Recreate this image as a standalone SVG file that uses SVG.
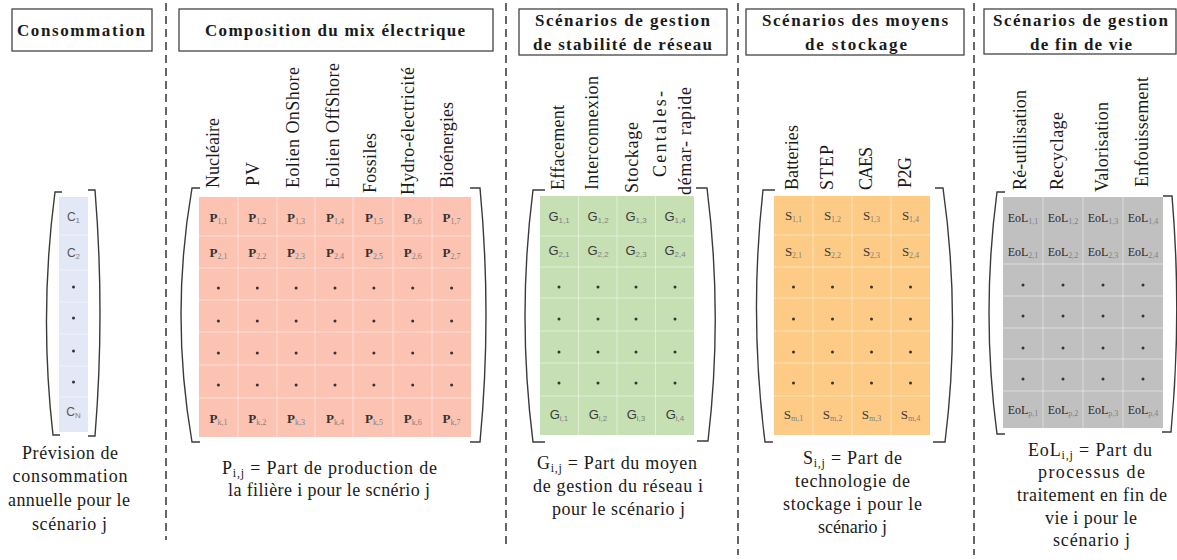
<svg xmlns="http://www.w3.org/2000/svg" xmlns:xlink="http://www.w3.org/1999/xlink" width="1177" height="560" viewBox="0 0 1177 560">
<style>
.bg{fill:#ffffff}
.box{fill:#ffffff;stroke:#444;stroke-width:1.3}
.ttl{font-family:"Liberation Serif","Times New Roman",serif;font-weight:bold;font-size:17px;fill:#1a1a1a;text-anchor:middle}
.hdr{font-family:"Liberation Serif","Times New Roman",serif;font-size:18px;fill:#1a1a1a}
.cap{font-family:"Liberation Serif","Times New Roman",serif;font-size:18px;fill:#1a1a1a;text-anchor:middle}
.dash{stroke:#333;stroke-width:1.5;stroke-dasharray:8 5;fill:none}
.br{fill:none;stroke:#3a3a3a;stroke-width:1.4}
.grid{stroke:#ffffff;stroke-opacity:0.45;stroke-width:1}
.cs{font-family:"Liberation Sans",Arial,sans-serif;font-size:12px;fill:#555;text-anchor:middle}
.ps{font-family:"Liberation Serif","Times New Roman",serif;font-weight:bold;font-size:13px;fill:#333;text-anchor:middle}
.gs{font-family:"Liberation Sans",Arial,sans-serif;font-size:13px;fill:#3a3a3a;text-anchor:middle}
.ss{font-family:"Liberation Serif","Times New Roman",serif;font-size:13px;fill:#3a3a3a;text-anchor:middle}
.es{font-family:"Liberation Serif","Times New Roman",serif;font-size:12px;fill:#2a2a2a;text-anchor:middle}
.sb{font-size:8px;fill:#808080;font-weight:normal}
.sub{font-size:12px}
.dot{fill:#333}
</style>
<defs>
<circle id="d" cx="0" cy="0" r="1.5" class="dot"/>
</defs>
<rect class="bg" x="0" y="0" width="1177" height="560"/>

<g id="separators">
<line class="dash" x1="166" y1="3" x2="166" y2="540"/>
<line class="dash" x1="506" y1="3" x2="506" y2="548"/>
<line class="dash" x1="738" y1="3" x2="738" y2="555"/>
<line class="dash" x1="974" y1="3" x2="974" y2="555"/>
</g>

<!-- Consommation -->
<g id="consommation">
<rect class="box" x="12" y="9" width="140" height="42"/>
<text class="ttl" x="81" y="36" textLength="128" lengthAdjust="spacing">Consommation</text>
<rect x="59" y="197" width="29" height="235" fill="#e2e8f5"/>
<g class="grid">
<line x1="59" y1="235" x2="88" y2="235"/><line x1="59" y1="270" x2="88" y2="270"/>
<line x1="59" y1="302" x2="88" y2="302"/><line x1="59" y1="334" x2="88" y2="334"/>
<line x1="59" y1="366" x2="88" y2="366"/><line x1="59" y1="397" x2="88" y2="397"/>
</g>
<text class="cs" x="73.5" y="221">C<tspan class="sb" dy="2">1</tspan></text>
<text class="cs" x="73.5" y="257">C<tspan class="sb" dy="2">2</tspan></text>
<use href="#d" x="73.5" y="287"/><use href="#d" x="73.5" y="318"/>
<use href="#d" x="73.5" y="351"/><use href="#d" x="73.5" y="382"/>
<text class="cs" x="73.5" y="416">C<tspan class="sb" dy="2">N</tspan></text>
<path class="br" d="M62,192 L55,192 Q39,313.5 53,435 L60,435"/>
<path class="br" d="M88,190 L95,190 Q105,313 95,436 L88,436"/>
<text class="cap" x="70" y="459" textLength="96" lengthAdjust="spacing">Prévision de</text>
<text class="cap" x="70" y="482" textLength="115" lengthAdjust="spacing">consommation</text>
<text class="cap" x="69" y="506" textLength="122" lengthAdjust="spacing">annuelle pour le</text>
<text class="cap" x="69.5" y="530" textLength="75" lengthAdjust="spacing">scénario j</text>
</g>

<!-- Composition du mix électrique -->
<g id="mix">
<rect class="box" x="179" y="9" width="314" height="42"/>
<text class="ttl" x="335" y="36" textLength="260" lengthAdjust="spacing">Composition du mix électrique</text>
<text class="hdr" transform="translate(219,188) rotate(-90)" textLength="70" lengthAdjust="spacing">Nucléaire</text>
<text class="hdr" transform="translate(259,186) rotate(-90)" textLength="24" lengthAdjust="spacing">PV</text>
<text class="hdr" transform="translate(299,188) rotate(-90)" textLength="121" lengthAdjust="spacing">Eolien OnShore</text>
<text class="hdr" transform="translate(339,188) rotate(-90)" textLength="125" lengthAdjust="spacing">Eolien OffShore</text>
<text class="hdr" transform="translate(376,193) rotate(-90)" textLength="60" lengthAdjust="spacing">Fossiles</text>
<text class="hdr" transform="translate(414,195) rotate(-90)" textLength="128" lengthAdjust="spacing">Hydro-électricité</text>
<text class="hdr" transform="translate(453,188) rotate(-90)" textLength="86" lengthAdjust="spacing">Bioénergies</text>
<rect x="199" y="197" width="272" height="240" fill="#fcc3b3"/>
<g class="grid">
<line x1="238" y1="197" x2="238" y2="437"/><line x1="277" y1="197" x2="277" y2="437"/>
<line x1="315" y1="197" x2="315" y2="437"/><line x1="353" y1="197" x2="353" y2="437"/>
<line x1="393" y1="197" x2="393" y2="437"/><line x1="432" y1="197" x2="432" y2="437"/>
<line x1="199" y1="236" x2="471" y2="236"/><line x1="199" y1="268" x2="471" y2="268"/>
<line x1="199" y1="300" x2="471" y2="300"/><line x1="199" y1="332" x2="471" y2="332"/>
<line x1="199" y1="365" x2="471" y2="365"/><line x1="199" y1="398" x2="471" y2="398"/>
</g>
<text class="ps" x="218.4" y="222">P<tspan class="sb" dy="2">1,1</tspan></text>
<text class="ps" x="257.3" y="222">P<tspan class="sb" dy="2">1,2</tspan></text>
<text class="ps" x="296.1" y="222">P<tspan class="sb" dy="2">1,3</tspan></text>
<text class="ps" x="335" y="222">P<tspan class="sb" dy="2">1,4</tspan></text>
<text class="ps" x="373.9" y="222">P<tspan class="sb" dy="2">1,5</tspan></text>
<text class="ps" x="412.7" y="222">P<tspan class="sb" dy="2">1,6</tspan></text>
<text class="ps" x="451.6" y="222">P<tspan class="sb" dy="2">1,7</tspan></text>
<text class="ps" x="218.4" y="257">P<tspan class="sb" dy="2">2,1</tspan></text>
<text class="ps" x="257.3" y="257">P<tspan class="sb" dy="2">2,2</tspan></text>
<text class="ps" x="296.1" y="257">P<tspan class="sb" dy="2">2,3</tspan></text>
<text class="ps" x="335" y="257">P<tspan class="sb" dy="2">2,4</tspan></text>
<text class="ps" x="373.9" y="257">P<tspan class="sb" dy="2">2,5</tspan></text>
<text class="ps" x="412.7" y="257">P<tspan class="sb" dy="2">2,6</tspan></text>
<text class="ps" x="451.6" y="257">P<tspan class="sb" dy="2">2,7</tspan></text>
<use href="#d" x="218.4" y="288"/><use href="#d" x="257.3" y="288"/><use href="#d" x="296.1" y="288"/><use href="#d" x="335" y="288"/><use href="#d" x="373.9" y="288"/><use href="#d" x="412.7" y="288"/><use href="#d" x="451.6" y="288"/>
<use href="#d" x="218.4" y="321"/><use href="#d" x="257.3" y="321"/><use href="#d" x="296.1" y="321"/><use href="#d" x="335" y="321"/><use href="#d" x="373.9" y="321"/><use href="#d" x="412.7" y="321"/><use href="#d" x="451.6" y="321"/>
<use href="#d" x="218.4" y="353"/><use href="#d" x="257.3" y="353"/><use href="#d" x="296.1" y="353"/><use href="#d" x="335" y="353"/><use href="#d" x="373.9" y="353"/><use href="#d" x="412.7" y="353"/><use href="#d" x="451.6" y="353"/>
<use href="#d" x="218.4" y="385"/><use href="#d" x="257.3" y="385"/><use href="#d" x="296.1" y="385"/><use href="#d" x="335" y="385"/><use href="#d" x="373.9" y="385"/><use href="#d" x="412.7" y="385"/><use href="#d" x="451.6" y="385"/>
<text class="ps" x="218.4" y="423">P<tspan class="sb" dy="2">k,1</tspan></text>
<text class="ps" x="257.3" y="423">P<tspan class="sb" dy="2">k,2</tspan></text>
<text class="ps" x="296.1" y="423">P<tspan class="sb" dy="2">k,3</tspan></text>
<text class="ps" x="335" y="423">P<tspan class="sb" dy="2">k,4</tspan></text>
<text class="ps" x="373.9" y="423">P<tspan class="sb" dy="2">k,5</tspan></text>
<text class="ps" x="412.7" y="423">P<tspan class="sb" dy="2">k,6</tspan></text>
<text class="ps" x="451.6" y="423">P<tspan class="sb" dy="2">k,7</tspan></text>
<path class="br" d="M200,188 L192,188 Q170,315 192,442 L200,442"/>
<path class="br" d="M470,188 L480,188 Q492,315 480,442 L470,442"/>
<text class="cap" x="329.5" y="474" textLength="215" lengthAdjust="spacing">P<tspan class="sub" dy="3">i,j</tspan><tspan dy="-3"> = Part de production de</tspan></text>
<text class="cap" x="329" y="496" textLength="202" lengthAdjust="spacing">la filière i pour le scnério j</text>
</g>

<!-- Stabilité de réseau -->
<g id="stabilite">
<rect class="box" x="519" y="9" width="208" height="46"/>
<text class="ttl" x="622.5" y="26" textLength="175" lengthAdjust="spacing">Scénarios de gestion</text>
<text class="ttl" x="622.5" y="50" textLength="179" lengthAdjust="spacing">de stabilité de réseau</text>
<text class="hdr" transform="translate(564,190) rotate(-90)" textLength="85" lengthAdjust="spacing">Effacement</text>
<text class="hdr" transform="translate(598,190) rotate(-90)" textLength="114" lengthAdjust="spacing">Interconnexion</text>
<text class="hdr" transform="translate(638,193) rotate(-90)" textLength="71" lengthAdjust="spacing">Stockage</text>
<text class="hdr" transform="translate(666,177) rotate(-90)" textLength="86" lengthAdjust="spacing">Centales-</text>
<text class="hdr" transform="translate(691,195) rotate(-90)" textLength="108" lengthAdjust="spacing">démar- rapide</text>
<rect x="540" y="196" width="154" height="239" fill="#c6e0b4"/>
<g class="grid">
<line x1="578.5" y1="196" x2="578.5" y2="435"/><line x1="617" y1="196" x2="617" y2="435"/><line x1="655.5" y1="196" x2="655.5" y2="435"/>
<line x1="540" y1="236" x2="694" y2="236"/><line x1="540" y1="267" x2="694" y2="267"/>
<line x1="540" y1="298" x2="694" y2="298"/><line x1="540" y1="331" x2="694" y2="331"/>
<line x1="540" y1="363" x2="694" y2="363"/><line x1="540" y1="396" x2="694" y2="396"/>
</g>
<text class="gs" x="559" y="221">G<tspan class="sb" dy="2">1,1</tspan></text>
<text class="gs" x="598" y="221">G<tspan class="sb" dy="2">1,2</tspan></text>
<text class="gs" x="636" y="221">G<tspan class="sb" dy="2">1,3</tspan></text>
<text class="gs" x="675" y="221">G<tspan class="sb" dy="2">1,4</tspan></text>
<text class="gs" x="559" y="255">G<tspan class="sb" dy="2">2,1</tspan></text>
<text class="gs" x="598" y="255">G<tspan class="sb" dy="2">2,2</tspan></text>
<text class="gs" x="636" y="255">G<tspan class="sb" dy="2">2,3</tspan></text>
<text class="gs" x="675" y="255">G<tspan class="sb" dy="2">2,4</tspan></text>
<use href="#d" x="559" y="287"/><use href="#d" x="598" y="287"/><use href="#d" x="636" y="287"/><use href="#d" x="675" y="287"/>
<use href="#d" x="559" y="319"/><use href="#d" x="598" y="319"/><use href="#d" x="636" y="319"/><use href="#d" x="675" y="319"/>
<use href="#d" x="559" y="352"/><use href="#d" x="598" y="352"/><use href="#d" x="636" y="352"/><use href="#d" x="675" y="352"/>
<use href="#d" x="559" y="383"/><use href="#d" x="598" y="383"/><use href="#d" x="636" y="383"/><use href="#d" x="675" y="383"/>
<text class="gs" x="559" y="419">G<tspan class="sb" dy="2">i,1</tspan></text>
<text class="gs" x="598" y="419">G<tspan class="sb" dy="2">i,2</tspan></text>
<text class="gs" x="636" y="419">G<tspan class="sb" dy="2">i,3</tspan></text>
<text class="gs" x="675" y="419">G<tspan class="sb" dy="2">i,4</tspan></text>
<path class="br" d="M545,190 L533,190 Q517,316 533,442 L545,442"/>
<path class="br" d="M696,188 L707,188 Q723,315 708,441 L697,441"/>
<text class="cap" x="617" y="469" textLength="160" lengthAdjust="spacing">G<tspan class="sub" dy="3">i,j</tspan><tspan dy="-3"> = Part du moyen</tspan></text>
<text class="cap" x="618" y="492" textLength="170" lengthAdjust="spacing">de gestion du réseau i</text>
<text class="cap" x="618.5" y="515" textLength="133" lengthAdjust="spacing">pour le scénario j</text>
</g>

<!-- Stockage -->
<g id="stockage">
<rect class="box" x="746" y="9" width="218" height="46"/>
<text class="ttl" x="855" y="26" textLength="186" lengthAdjust="spacing">Scénarios des moyens</text>
<text class="ttl" x="856" y="50" textLength="102" lengthAdjust="spacing">de stockage</text>
<text class="hdr" transform="translate(798,190) rotate(-90)" textLength="65" lengthAdjust="spacing">Batteries</text>
<text class="hdr" transform="translate(833,190) rotate(-90)" textLength="45" lengthAdjust="spacing">STEP</text>
<text class="hdr" transform="translate(872,190) rotate(-90)" textLength="43" lengthAdjust="spacing">CAES</text>
<text class="hdr" transform="translate(911,188) rotate(-90)" textLength="31" lengthAdjust="spacing">P2G</text>
<rect x="774" y="196" width="156" height="239" fill="#fdcb85"/>
<g class="grid">
<line x1="813" y1="196" x2="813" y2="435"/><line x1="852" y1="196" x2="852" y2="435"/><line x1="891" y1="196" x2="891" y2="435"/>
<line x1="774" y1="235" x2="930" y2="235"/><line x1="774" y1="267" x2="930" y2="267"/>
<line x1="774" y1="298" x2="930" y2="298"/><line x1="774" y1="331" x2="930" y2="331"/>
<line x1="774" y1="363" x2="930" y2="363"/><line x1="774" y1="396" x2="930" y2="396"/>
</g>
<text class="ss" x="793.5" y="220">S<tspan class="sb" dy="2">1,1</tspan></text>
<text class="ss" x="832.5" y="220">S<tspan class="sb" dy="2">1,2</tspan></text>
<text class="ss" x="871.5" y="220">S<tspan class="sb" dy="2">1,3</tspan></text>
<text class="ss" x="910.5" y="220">S<tspan class="sb" dy="2">1,4</tspan></text>
<text class="ss" x="793.5" y="256">S<tspan class="sb" dy="2">2,1</tspan></text>
<text class="ss" x="832.5" y="256">S<tspan class="sb" dy="2">2,2</tspan></text>
<text class="ss" x="871.5" y="256">S<tspan class="sb" dy="2">2,3</tspan></text>
<text class="ss" x="910.5" y="256">S<tspan class="sb" dy="2">2,4</tspan></text>
<use href="#d" x="793.5" y="287"/><use href="#d" x="832.5" y="287"/><use href="#d" x="871.5" y="287"/><use href="#d" x="910.5" y="287"/>
<use href="#d" x="793.5" y="319"/><use href="#d" x="832.5" y="319"/><use href="#d" x="871.5" y="319"/><use href="#d" x="910.5" y="319"/>
<use href="#d" x="793.5" y="352"/><use href="#d" x="832.5" y="352"/><use href="#d" x="871.5" y="352"/><use href="#d" x="910.5" y="352"/>
<use href="#d" x="793.5" y="383"/><use href="#d" x="832.5" y="383"/><use href="#d" x="871.5" y="383"/><use href="#d" x="910.5" y="383"/>
<text class="ss" x="793.5" y="419">S<tspan class="sb" dy="2">m,1</tspan></text>
<text class="ss" x="832.5" y="419">S<tspan class="sb" dy="2">m,2</tspan></text>
<text class="ss" x="871.5" y="419">S<tspan class="sb" dy="2">m,3</tspan></text>
<text class="ss" x="910.5" y="419">S<tspan class="sb" dy="2">m,4</tspan></text>
<path class="br" d="M775,190 L763,190 Q749,316 765,442 L773,442"/>
<path class="br" d="M935,188 L943,188 Q961,315 945,442 L933,442"/>
<text class="cap" x="852.5" y="464" textLength="99" lengthAdjust="spacing">S<tspan class="sub" dy="3">i,j</tspan><tspan dy="-3"> = Part de</tspan></text>
<text class="cap" x="852.5" y="487" textLength="115" lengthAdjust="spacing">technologie de</text>
<text class="cap" x="852.5" y="510" textLength="139" lengthAdjust="spacing">stockage i pour le</text>
<text class="cap" x="852.5" y="533" textLength="69" lengthAdjust="spacing">scénario j</text>
</g>

<!-- Fin de vie -->
<g id="findevie">
<rect class="box" x="984" y="9" width="192" height="45"/>
<text class="ttl" x="1080.5" y="26" textLength="175" lengthAdjust="spacing">Scénarios de gestion</text>
<text class="ttl" x="1081" y="50" textLength="102" lengthAdjust="spacing">de fin de vie</text>
<text class="hdr" transform="translate(1026,190) rotate(-90)" textLength="100" lengthAdjust="spacing">Ré-utilisation</text>
<text class="hdr" transform="translate(1063,190) rotate(-90)" textLength="78" lengthAdjust="spacing">Recyclage</text>
<text class="hdr" transform="translate(1108,192) rotate(-90)" textLength="90" lengthAdjust="spacing">Valorisation</text>
<text class="hdr" transform="translate(1148,187) rotate(-90)" textLength="110" lengthAdjust="spacing">Enfouissement</text>
<rect x="1003" y="197" width="160" height="231" fill="#c0c0c0"/>
<g class="grid">
<line x1="1043" y1="197" x2="1043" y2="428"/><line x1="1083" y1="197" x2="1083" y2="428"/><line x1="1123" y1="197" x2="1123" y2="428"/>
<line x1="1003" y1="264" x2="1163" y2="264"/><line x1="1003" y1="296" x2="1163" y2="296"/>
<line x1="1003" y1="328" x2="1163" y2="328"/><line x1="1003" y1="359" x2="1163" y2="359"/>
<line x1="1003" y1="391" x2="1163" y2="391"/>
</g>
<text class="es" x="1023" y="222">EoL<tspan class="sb" dy="2">1,1</tspan></text>
<text class="es" x="1063" y="222">EoL<tspan class="sb" dy="2">1,2</tspan></text>
<text class="es" x="1103" y="222">EoL<tspan class="sb" dy="2">1,3</tspan></text>
<text class="es" x="1143" y="222">EoL<tspan class="sb" dy="2">1,4</tspan></text>
<text class="es" x="1023" y="256">EoL<tspan class="sb" dy="2">2,1</tspan></text>
<text class="es" x="1063" y="256">EoL<tspan class="sb" dy="2">2,2</tspan></text>
<text class="es" x="1103" y="256">EoL<tspan class="sb" dy="2">2,3</tspan></text>
<text class="es" x="1143" y="256">EoL<tspan class="sb" dy="2">2,4</tspan></text>
<use href="#d" x="1023" y="285"/><use href="#d" x="1063" y="285"/><use href="#d" x="1103" y="285"/><use href="#d" x="1143" y="285"/>
<use href="#d" x="1023" y="316"/><use href="#d" x="1063" y="316"/><use href="#d" x="1103" y="316"/><use href="#d" x="1143" y="316"/>
<use href="#d" x="1023" y="348"/><use href="#d" x="1063" y="348"/><use href="#d" x="1103" y="348"/><use href="#d" x="1143" y="348"/>
<use href="#d" x="1023" y="379"/><use href="#d" x="1063" y="379"/><use href="#d" x="1103" y="379"/><use href="#d" x="1143" y="379"/>
<text class="es" x="1023" y="414">EoL<tspan class="sb" dy="2">p,1</tspan></text>
<text class="es" x="1063" y="414">EoL<tspan class="sb" dy="2">p,2</tspan></text>
<text class="es" x="1103" y="414">EoL<tspan class="sb" dy="2">p,3</tspan></text>
<text class="es" x="1143" y="414">EoL<tspan class="sb" dy="2">p,4</tspan></text>
<path class="br" d="M1005,192 L997,192 Q981,313 997,434 L1005,434"/>
<path class="br" d="M1163,196 L1172,196 Q1182,314 1171,432 L1162,432"/>
<text class="cap" x="1090" y="456" textLength="124" lengthAdjust="spacing">EoL<tspan class="sub" dy="3">i,j</tspan><tspan dy="-3"> = Part du</tspan></text>
<text class="cap" x="1091.5" y="478" textLength="107" lengthAdjust="spacing">processus de</text>
<text class="cap" x="1092" y="501" textLength="150" lengthAdjust="spacing">traitement en fin de</text>
<text class="cap" x="1091" y="524" textLength="92" lengthAdjust="spacing">vie i pour le</text>
<text class="cap" x="1091.5" y="546" textLength="77" lengthAdjust="spacing">scénario j</text>
</g>
</svg>
